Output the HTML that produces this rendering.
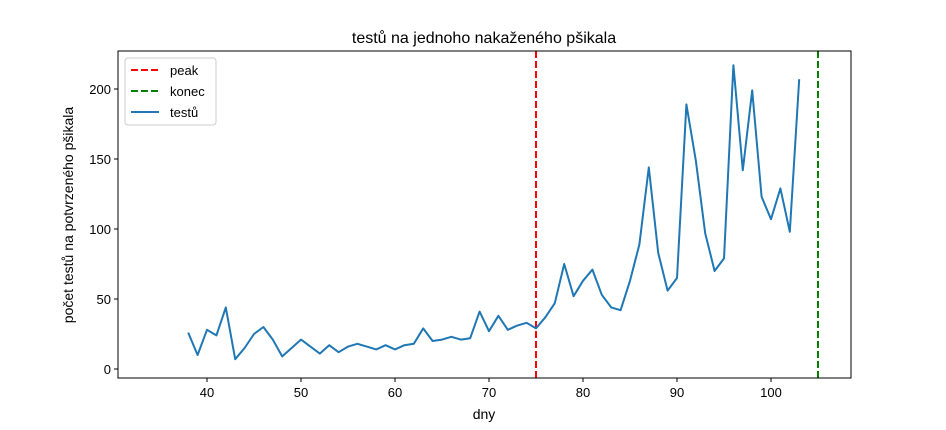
<!DOCTYPE html>
<html><head><meta charset="utf-8"><style>
body{margin:0;background:#fff}
svg text{font-family:"Liberation Sans","DejaVu Sans",sans-serif;fill:#000}
</style></head><body>
<svg id="chart" width="946" height="425" xmlns="http://www.w3.org/2000/svg">
<rect width="946" height="425" fill="#fff"/>
<text x="484" y="43" font-size="16" text-anchor="middle">testů na jednoho nakaženého pšikala</text>
<g id="plot"></g>
<text x="484" y="419" font-size="14" text-anchor="middle">dny</text>
<text transform="translate(73,215) rotate(-90)" font-size="14" text-anchor="middle">počet testů na potvrzeného pšikala</text>
</svg>
<script>
const days = [38,39,40,41,42,43,44,45,46,47,48,49,50,51,52,53,54,55,56,57,58,59,60,61,62,63,64,65,66,67,68,69,70,71,72,73,74,75,76,77,78,79,80,81,82,83,84,85,86,87,88,89,90,91,92,93,94,95,96,97,98,99,100,101,102,103];
const tests = [26,10,28,24,44,7,15,25,30,21,9,15,21,16,11,17,12,16,18,16,14,17,14,17,18,29,20,21,23,21,22,41,27,38,28,31,33,29,37,47,75,52,63,71,53,44,42,63,89,144,83,56,65,189,149,97,70,79,217,142,199,123,107,129,98,207];
const xTicks = [40,50,60,70,80,90,100];
const yTicks = [0,50,100,150,200];
const peakDay = 75, endDay = 105;
const L=118,R=851,T=51,B=378;
const xs = d => 207 + (d-40)*9.4;
const ys = v => 369 - v*1.4;
const NS="http://www.w3.org/2000/svg";
const g=document.getElementById('plot');
function mk(t,a){const e=document.createElementNS(NS,t);for(const k in a)e.setAttribute(k,a[k]);g.appendChild(e);return e;}
xTicks.forEach(t=>{
  const l=mk('line',{x1:xs(t),x2:xs(t),y1:B,y2:B+4,stroke:'#000'});
  
  
  const tx=mk('text',{x:xs(t),y:B+19,'font-size':13,'text-anchor':'middle'});tx.textContent=t;
  
  
});
yTicks.forEach(t=>{
  const l=mk('line',{x1:L-4,x2:L,y1:ys(t),y2:ys(t),stroke:'#000'});
  
  
  const tx=mk('text',{x:L-7,y:ys(t)+5,'font-size':13,'text-anchor':'end'});tx.textContent=t;
  
  
});
const pk=mk('line',{x1:xs(peakDay),x2:xs(peakDay),y1:T,y2:B,stroke:'#ff0000','stroke-width':2,'stroke-dasharray':'7,3'});


const en=mk('line',{x1:xs(endDay),x2:xs(endDay),y1:T,y2:B,stroke:'#008000','stroke-width':2,'stroke-dasharray':'7,3'});


const pts=days.map((d,i)=>xs(d).toFixed(1)+','+ys(tests[i]).toFixed(1)).join(' ');
const pl=mk('polyline',{points:pts,fill:'none',stroke:'#1f77b4','stroke-width':2,'stroke-linejoin':'round'});


const fr=mk('rect',{x:L,y:T,width:R-L,height:B-T,fill:'none',stroke:'#000','stroke-width':1});


const lg=mk('rect',{x:125,y:58,width:91,height:67,fill:'#fff',stroke:'#ccc',rx:3});


[['peak','#ff0000','7,3'],['konec','#008000','7,3'],['testů','#1f77b4','']].forEach((e,i)=>{
  const y=70+i*21;
  const l=mk('line',{x1:131,x2:159,y1:y,y2:y,stroke:e[1],'stroke-width':2,'stroke-dasharray':e[2]});
  
  
  const t=mk('text',{x:170,y:y+5,'font-size':13});t.textContent=e[0];
  
  
});
</script>
</body></html>
